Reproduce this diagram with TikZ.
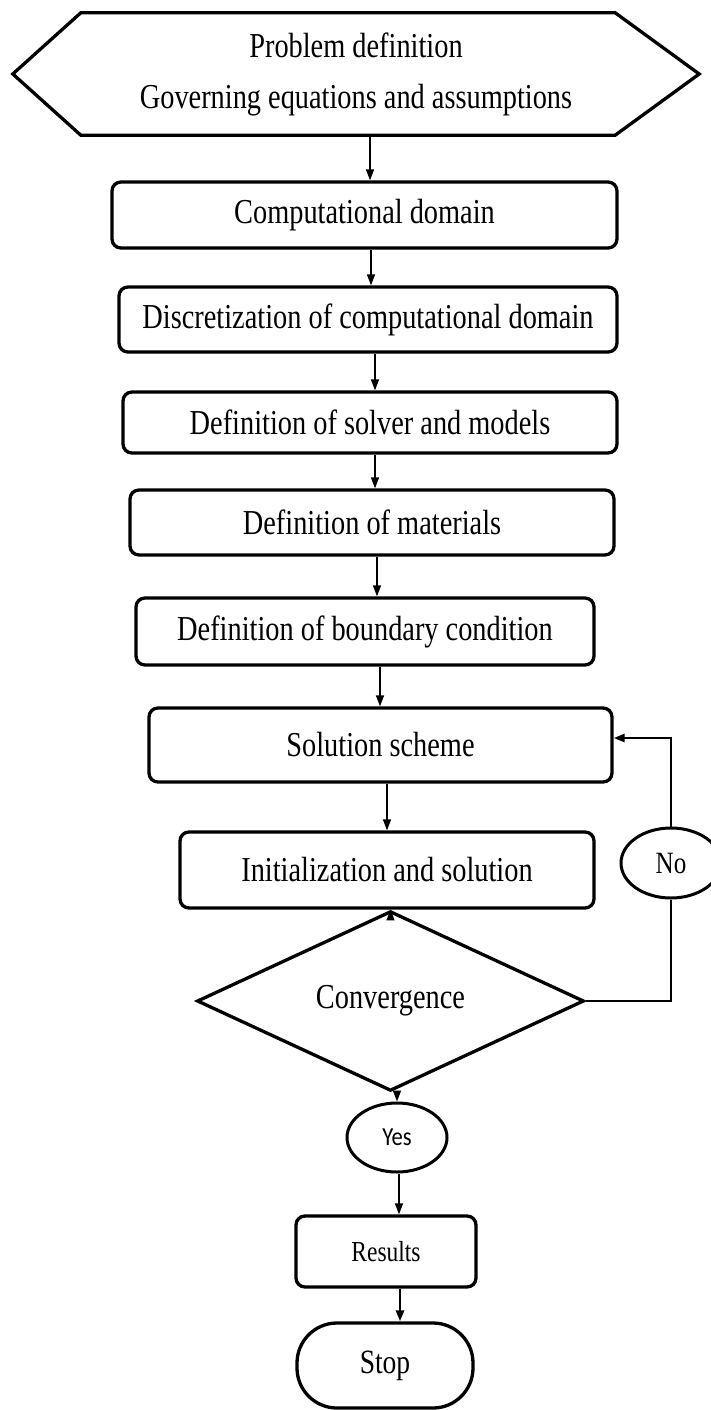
\documentclass[tikz,border=0pt]{standalone}
\usepackage{fontspec}
\setmainfont{Liberation Serif}[FakeStretch=0.81]
\newfontfamily\yesfont{Carlito}[FakeStretch=0.87]
\usetikzlibrary{shapes.geometric,arrows.meta}

\begin{document}
\begin{tikzpicture}[x=1pt, y=-1pt,
  every node/.style={inner sep=0pt, font=\fontsize{35}{51}\selectfont},
  box/.style={draw, line width=3.3pt, rounded corners=9pt},
  arr/.style={line width=1.4pt, -{Triangle[length=11pt,width=8pt]}},
  back/.style={line width=2.6pt}]
\useasboundingbox (0,0) rectangle (710,1410);

\node (prob) at (356, 74) [minimum width=686pt, minimum height=122pt, align=center] {Problem definition\\Governing equations and assumptions};
\draw[line width=3.3pt] (prob.west) -- ([xshift=68pt]prob.north west) -- ([xshift=-84pt]prob.north east) -- (prob.east)
  -- ([xshift=-84pt]prob.south east) -- ([xshift=68pt]prob.south west) -- cycle;

\node (comp) at (364.5, 215) [box, minimum width=505pt, minimum height=66pt] {Computational domain};
\node (disc) at (368, 319.5) [box, minimum width=498pt, minimum height=65pt] {Discretization of computational domain};
\node (solv) at (370, 422.5) [box, minimum width=494pt, minimum height=61pt] {Definition of solver and models};
\node (mat) at (372, 522.5) [box, minimum width=484pt, minimum height=65pt] {Definition of materials};
\node (bc) at (365, 631.5) [box, minimum width=458pt, minimum height=67pt] {Definition of boundary condition};
\node (sol) at (380.5, 745) [box, minimum width=463pt, minimum height=74pt] {Solution scheme};
\node (init) at (387, 870) [box, minimum width=414pt, minimum height=76pt] {Initialization and solution};
\node (conv) at (390.5, 1001) [diamond, draw, line width=3.3pt, minimum width=387pt, minimum height=124pt] {Convergence};
\node (no) at (671, 863) [ellipse, draw, line width=3pt, minimum width=100pt, minimum height=70pt, font=\fontsize{31}{37}\selectfont] {No};
\node (yes) at (397, 1137.5) [ellipse, draw, line width=3pt, minimum width=100pt, minimum height=69pt, font=\yesfont\fontsize{26}{31}\selectfont] {Yes};
\node (res) at (386, 1251.5) [box, minimum width=180pt, minimum height=71pt, font=\fontsize{29}{35}\selectfont] {Results};
\node (stop) at (385, 1365.5) [draw, line width=3.3pt, rounded corners=40pt, minimum width=176pt, minimum height=85pt, font=\fontsize{34}{40}\selectfont] {Stop};

\draw[arr] (prob.south -| 370,0) to (comp.north -| 370,0);
\draw[arr] (comp.south -| 371,0) to (disc.north -| 371,0);
\draw[arr] (disc.south -| 375,0) to (solv.north -| 375,0);
\draw[arr] (solv.south -| 375,0) to (mat.north -| 375,0);
\draw[arr] (mat.south -| 377,0) to (bc.north -| 377,0);
\draw[arr] (bc.south -| 380,0) to (sol.north -| 380,0);
\draw[arr] (sol.south -| 387,0) to (init.north -| 387,0);
\draw[arr] (init.south -| conv.north) to (conv.north);
\draw[arr] (conv.south -| yes.north) to (yes.north);
\draw[arr] (yes.south -| 399,0) to (res.north -| 399,0);
\draw[arr, line width=2.6pt] (res.south -| 400,0) to (stop.north -| 400,0);
\draw[back] (conv.east) -- (no.south |- conv.east) -- (no.south);
\draw[back, -{Triangle[length=11pt,width=8pt]}] (no.north) |- ([yshift=7pt]sol.east);
\end{tikzpicture}
\end{document}
